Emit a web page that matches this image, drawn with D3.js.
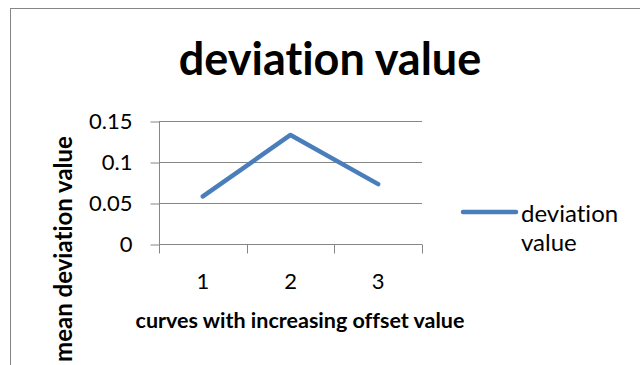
<!DOCTYPE html>
<html><head><meta charset="utf-8">
<script src="https://cdn.jsdelivr.net/npm/d3@7"></script>
<style>body{margin:0;background:#fff}svg{display:block}text{font-family:Lato,"Open Sans",sans-serif;font-variant-ligatures:none;font-feature-settings:"liga" 0}</style>
</head><body>
<script>
const categories = ["1", "2", "3"];
const values = [0.058, 0.133, 0.073];
const yTicks = [0, 0.05, 0.1, 0.15];
const seriesName = ["deviation", "value"];
const title = "deviation value";
const xTitle = "curves with increasing offset value";
const yTitle = "mean deviation value";

(function () {
const W = 640, H = 365;
const svg = d3.select("body").append("svg").attr("width", W).attr("height", H);
svg.append("rect").attr("x", 10.5).attr("y", 8.5).attr("width", 640).attr("height", 400)
  .attr("fill", "#fff").attr("stroke", "#868686").attr("stroke-width", 1);

const pl = 159, pr = 422, pt = 121, pb = 244;
const x = d3.scaleBand().domain(categories).range([pl, pr]).padding(0);
const y = d3.scaleLinear().domain([0, 0.15]).range([pb, pt]);

// gridlines
svg.append("g").selectAll("line").data(yTicks.filter(d => d > 0)).join("line")
  .attr("x1", pl).attr("x2", pr).attr("y1", d => Math.round(y(d)) + 0.5).attr("y2", d => Math.round(y(d)) + 0.5)
  .attr("stroke", "#868686").attr("stroke-width", 1);

// y axis
const ya = svg.append("g").attr("transform", `translate(${pl + 0.5},0.5)`)
  .call(d3.axisLeft(y).tickValues(yTicks).tickFormat(d => String(d)).tickSize(9).tickPadding(18));
ya.select(".domain").attr("stroke", "#868686").attr("d", `M0,${pt}V${pb}`);
ya.selectAll(".tick line").attr("stroke", "#868686");
ya.selectAll("text").attr("font-size", 22).attr("fill", "#000").attr("font-family", "Lato");

// x axis
const xa = svg.append("g").attr("transform", `translate(0,${pb + 0.5})`)
  .call(d3.axisBottom(x).tickSize(0).tickPadding(29));
xa.select(".domain").attr("stroke", "#868686").attr("d", `M${pl},0H${pr}`);
xa.selectAll("text").attr("font-size", 22).attr("fill", "#000").attr("font-family", "Lato");
const bounds = categories.map(c => x(c)).concat([pr]);
xa.append("g").selectAll("line").data(bounds).join("line")
  .attr("x1", d => Math.round(d) + 0.5).attr("x2", d => Math.round(d) + 0.5)
  .attr("y1", 0).attr("y2", 9).attr("stroke", "#868686");

// line
const line = d3.line().x((d, i) => x(categories[i]) + x.bandwidth() / 2).y(d => y(d));
svg.append("path").datum(values).attr("d", line).attr("fill", "none")
  .attr("stroke", "#4A7EBB").attr("stroke-width", 4.5).attr("stroke-linecap", "round").attr("stroke-linejoin", "round");

// titles
svg.append("text").attr("x", 330).attr("y", 75).attr("text-anchor", "middle")
  .attr("font-size", 45).attr("font-weight", "bold").text(title);
svg.append("text").attr("x", 300).attr("y", 328).attr("text-anchor", "middle")
  .attr("font-size", 21.5).attr("font-weight", "bold").text(xTitle);
svg.append("text").attr("transform", "translate(72,249) rotate(-90)").attr("text-anchor", "middle")
  .attr("font-size", 24).attr("font-weight", "bold").text(yTitle);

// legend
svg.append("line").attr("x1", 463).attr("x2", 516).attr("y1", 212).attr("y2", 212)
  .attr("stroke", "#4A7EBB").attr("stroke-width", 4.5).attr("stroke-linecap", "round");
svg.append("text").attr("x", 521).attr("y", 222).attr("font-size", 24).text(seriesName[0]);
svg.append("text").attr("x", 521).attr("y", 251).attr("font-size", 24).text(seriesName[1]);
})();
</script>
</body></html>
